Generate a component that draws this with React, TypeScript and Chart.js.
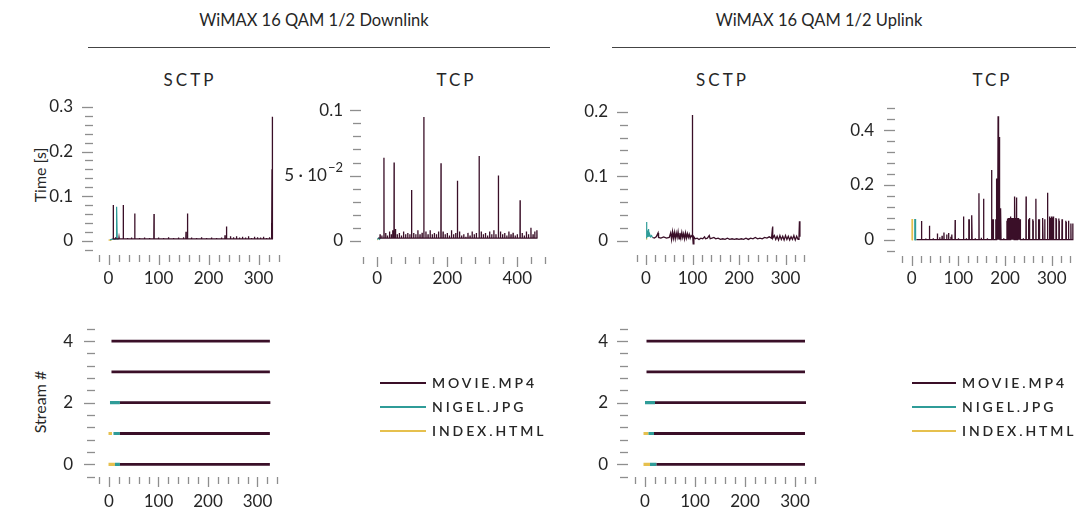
import React, { useEffect, useRef } from "react";
import { Chart, registerables } from "chart.js";
Chart.register(...registerables);

const FONT = "Lato, 'Open Sans', 'DejaVu Sans', sans-serif";
const MOVIE_COLOR = "#3a0f28";
const NIGEL_COLOR = "#2f9c98";
const INDEX_COLOR = "#e6c04e";
const TEXT_COLOR = "#262626";
const MARK_COLOR = "#8e8e8e";

type Pt = [number, number];
type Seg = [number, number, number]; // stream, xStart, xEnd

// ---------- Downlink SCTP: baseline, x-range, spikes [x, time] ----------
const dlSctpMovieBase = 0.004;
const dlSctpMovieRange: Pt = [8, 329];
const dlSctpMovieSpikes: Pt[] = [
  [9.5, 0.08], [14, 0.008], [21, 0.007], [29.5, 0.08], [38, 0.006], [46, 0.007], [52.5, 0.061], [62, 0.006],
  [72, 0.007], [82, 0.006], [91, 0.06], [100, 0.007], [110, 0.006], [120, 0.008], [130, 0.006], [140, 0.007],
  [150, 0.008], [155, 0.02], [158, 0.061], [166, 0.007], [176, 0.006], [186, 0.008], [196, 0.006],
  [206, 0.007], [216, 0.006], [226, 0.007], [233, 0.012], [236, 0.032], [244, 0.01], [250, 0.008],
  [256, 0.01], [262, 0.007], [268, 0.009], [274, 0.007], [280, 0.01], [286, 0.006], [292, 0.009],
  [298, 0.008], [304, 0.007], [310, 0.009], [316, 0.006], [322, 0.008], [326, 0.04], [327, 0.16], [328, 0.278],
];
const dlSctpNigel: Pt[] = [
  [3, 0.002], [6, 0.003], [9, 0.004], [12, 0.003], [15, 0.004], [16, 0.03], [16.5, 0.076], [17.5, 0.004], [20, 0.003],
];
const dlSctpIndex: Pt[] = [[0, 0.001], [2, 0.002], [4, 0.001], [6, 0.002]];

// ---------- Downlink TCP ----------
const dlTcpMovieBase = 0.002;
const dlTcpMovieRange: Pt = [3, 458];
const dlTcpMovieSpikes: Pt[] = [
  [8, 0.005], [13, 0.004], [19, 0.0636], [24, 0.006], [29, 0.004], [35, 0.007], [40, 0.005], [44, 0.008],
  [48, 0.06], [52, 0.009], [57, 0.005], [63, 0.006], [69, 0.004], [75, 0.007], [81, 0.005], [87, 0.006],
  [93, 0.005], [98, 0.039], [104, 0.006], [110, 0.005], [116, 0.008], [122, 0.005], [128, 0.006],
  [133, 0.095], [139, 0.007], [145, 0.005], [151, 0.008], [157, 0.005], [163, 0.006], [169, 0.005],
  [175, 0.007], [182, 0.0595], [188, 0.007], [194, 0.005], [200, 0.006], [206, 0.004], [212, 0.008],
  [218, 0.005], [224, 0.006], [229, 0.046], [235, 0.007], [241, 0.004], [247, 0.005], [253, 0.003],
  [259, 0.006], [265, 0.004], [271, 0.007], [277, 0.005], [283, 0.006], [291, 0.065], [297, 0.007],
  [303, 0.005], [309, 0.006], [315, 0.004], [321, 0.007], [327, 0.005], [333, 0.008], [339, 0.005],
  [346, 0.05], [352, 0.007], [358, 0.005], [364, 0.006], [370, 0.004], [376, 0.007], [382, 0.005],
  [388, 0.006], [394, 0.004], [400, 0.005], [408, 0.031], [414, 0.006], [420, 0.004], [426, 0.007],
  [432, 0.005], [439, 0.01], [445, 0.005], [450, 0.007], [456, 0.008],
];
const dlTcpNigel: Pt[] = [[0, 0.001], [3, 0.002], [6, 0.001], [9, 0.002]];
const dlTcpIndex: Pt[] = [[0, 0.0005], [2, 0.001]];

// ---------- Uplink SCTP ----------
const ulSctpMovie: Pt[] = [
  [14, 0.005], [18, 0.004], [22, 0.006], [26, 0.012], [27, 0.005], [32, 0.004], [38, 0.006], [44, 0.004],
  [50, 0.005], [53, 0.012], [55, 0.002], [57, 0.014], [59, 0.004], [61, 0.013], [63, 0.003], [65, 0.012],
  [67, 0.005], [69, 0.014], [71, 0.003], [73, 0.012], [75, 0.004], [77, 0.013], [79, 0.005], [81, 0.011],
  [83, 0.003], [85, 0.012], [87, 0.004], [89, 0.011], [91, 0.005], [93, 0.01], [95, 0.004], [97, 0.008],
  [99, 0.006], [99.5, 0.1], [100, 0.195], [100.5, 0.01], [101.5, -0.005], [103, 0.006], [106, 0.003],
  [110, 0.004], [114, 0.002], [118, 0.004], [122, 0.003], [126, 0.006], [128, 0.003], [132, 0.004],
  [136, 0.008], [138, 0.003], [142, 0.004], [146, 0.005], [150, 0.003], [155, 0.004], [160, 0.002],
  [165, 0.003], [170, 0.002], [175, 0.004], [180, 0.002], [185, 0.003], [190, 0.002], [195, 0.003],
  [200, 0.002], [205, 0.003], [210, 0.002], [215, 0.004], [220, 0.002], [225, 0.004], [230, 0.003],
  [235, 0.005], [240, 0.003], [245, 0.004], [250, 0.003], [255, 0.005], [260, 0.004], [265, 0.006],
  [270, 0.004], [271, 0.012], [272, 0.022], [273, 0.004], [276, 0.008], [279, 0.002], [282, 0.007],
  [285, 0.001], [288, 0.008], [291, 0.002], [294, 0.007], [297, 0.001], [300, 0.008], [303, 0.002],
  [306, 0.007], [309, 0.001], [312, 0.006], [315, 0.002], [318, 0.008], [321, 0.001], [324, 0.007],
  [327, 0.002], [329, 0.006], [330, 0.03], [331, 0.006],
];
const ulSctpNigel: Pt[] = [
  [0, 0.005], [1, 0.029], [2, 0.008], [3, 0.012], [4, 0.006], [5.5, 0.018], [6.5, 0.007], [8, 0.01],
  [10, 0.006], [12, 0.008], [14, 0.005],
];
const ulSctpIndex: Pt[] = [[0, 0.003], [1, 0.005], [2, 0.003]];

// ---------- Uplink TCP ----------
const ulTcpMovieBase = 0.001;
const ulTcpMovieRange: Pt = [10, 346];
const ulTcpMovieSpikes: Pt[] = [
  [21, 0.069], [30, 0.005], [38, 0.052], [46, 0.006], [55, 0.024], [60, 0.01], [65, 0.015], [69, 0.027],
  [75, 0.02], [79, 0.025], [84, 0.012], [86, 0.02], [93, 0.073], [100, 0.006], [111, 0.085], [117, 0.006],
  [122, 0.075], [123, 0.075], [128, 0.09], [129, 0.09], [136, 0.006], [144, 0.17], [149, 0.008],
  [154, 0.15], [162, 0.006], [171, 0.255], [172, 0.075], [173, 0.075], [174, 0.075], [175, 0.075],
  [180, 0.075], [181, 0.075], [182, 0.224], [183, 0.1], [184, 0.2], [185, 0.45], [186, 0.22],
  [187, 0.375], [188, 0.15], [189, 0.08], [190, 0.075], [191, 0.115], [197, 0.006],
  [204, 0.07], [205, 0.075], [206, 0.078], [207, 0.08], [208, 0.075], [209, 0.07], [210, 0.08],
  [211, 0.085], [212, 0.08], [213, 0.08], [214, 0.075], [215, 0.07], [216, 0.08], [217, 0.07],
  [218, 0.075], [219, 0.08], [220, 0.1], [221, 0.158], [222, 0.08], [223, 0.075], [224, 0.155],
  [225, 0.155], [226, 0.08], [227, 0.075], [228, 0.07], [229, 0.08], [230, 0.06], [231, 0.075],
  [232, 0.07], [233, 0.075], [239, 0.006], [245, 0.158], [250, 0.075], [251, 0.07], [252, 0.075],
  [253, 0.08], [259, 0.075], [260, 0.07], [266, 0.15], [271, 0.075], [272, 0.07], [273, 0.075],
  [274, 0.07], [280, 0.08], [281, 0.075], [285, 0.075], [291, 0.172], [295, 0.08], [296, 0.085],
  [297, 0.08], [298, 0.075], [299, 0.08], [300, 0.085], [301, 0.08], [302, 0.075], [303, 0.085],
  [304, 0.08], [309, 0.08], [310, 0.075], [315, 0.078], [316, 0.07], [322, 0.075], [323, 0.07],
  [330, 0.07], [331, 0.065], [336, 0.07], [341, 0.06], [345, 0.06],
];
const ulTcpNigel: Pt[] = [[6, 0], [6.5, 0.076], [7, 0], [8, 0.076], [8.5, 0]];
const ulTcpIndex: Pt[] = [[0, 0], [0.5, 0.076], [1, 0], [1.5, 0.076], [2, 0]];

// ---------- Stream # panels (stream, x from, x to) ----------
const dlStreamMovie: Seg[] = [[4, 5, 325], [3, 5, 325], [2, 22, 326], [1, 22, 325], [0, 22, 325]];
const dlStreamNigel: Seg[] = [[2, 2, 22], [1, 9, 22], [0, 12, 22]];
const dlStreamIndex: Seg[] = [[1, -1, 6], [0, -1, 12]];
const ulStreamMovie: Seg[] = [[4, 3, 320], [3, 3, 320], [2, 20, 322], [1, 18, 320], [0, 23, 320]];
const ulStreamNigel: Seg[] = [[2, 0, 20], [1, 7, 18], [0, 10, 23]];
const ulStreamIndex: Seg[] = [[1, -3, 7], [0, -3, 10]];

// ---------- ticks ----------
const xMajorSctp = [0, 100, 200, 300];
const xLabelsSctp = ["0", "100", "200", "300"];
const xMajorDlTcp = [0, 200, 400];
const xLabelsDlTcp = ["0", "200", "400"];
const yMajorDlSctp = [0, 0.1, 0.2, 0.3];
const yLabelsDlSctp = ["0", "0.1", "0.2", "0.3"];
const yMajorDlTcp = [0, 0.05, 0.1];
const yLabelsDlTcp = ["0", "5 · 10^−2", "0.1"];
const yMajorUlSctp = [0, 0.1, 0.2];
const yLabelsUlSctp = ["0", "0.1", "0.2"];
const yMajorUlTcp = [0, 0.2, 0.4];
const yLabelsUlTcp = ["0", "0.2", "0.4"];
const yMajorStream = [0, 2, 4];
const yLabelsStream = ["0", "2", "4"];

const legendNames = ["MOVIE.MP4", "NIGEL.JPG", "INDEX.HTML"];
const legendColors = [MOVIE_COLOR, NIGEL_COLOR, INDEX_COLOR];

function steps(min: number, max: number, step: number): number[] {
  const out: number[] = [];
  const n = Math.round((max - min) / step);
  for (let i = 0; i <= n; i++) out.push(+(min + i * step).toFixed(6));
  return out;
}

// turn a baseline + list of read spikes into the polyline the line dataset needs
function spikeLine(range: Pt, base: number, spikes: Pt[], hw = 0.35): Pt[] {
  const out: Pt[] = [[range[0], base]];
  for (const [x, h] of spikes) out.push([x - hw, base], [x, h], [x + hw, base]);
  out.push([range[1], base]);
  return out;
}

const axesPlugin = {
  id: "mmaAxes",
  afterDraw(chart: any, _a: any, o: any) {
    const ctx = chart.ctx;
    const xs = chart.scales.x;
    const ys = chart.scales.y;
    const isMajor = (list: number[], v: number, step: number) => list.some((m) => Math.abs(m - v) < step * 1e-3);
    ctx.save();
    ctx.strokeStyle = MARK_COLOR;
    ctx.lineWidth = 1.3;
    for (const v of o.yTicks) {
      const py = Math.round(ys.getPixelForValue(v)) + 0.5;
      const len = isMajor(o.yMajor, v, o.yStep) ? 11 : 8;
      ctx.beginPath();
      ctx.moveTo(o.yMarkRight - len, py);
      ctx.lineTo(o.yMarkRight, py);
      ctx.stroke();
    }
    for (const v of o.xTicks) {
      const px = Math.round(xs.getPixelForValue(v)) + 0.5;
      const len = isMajor(o.xMajor, v, o.xStep) ? 10 : 7;
      ctx.beginPath();
      ctx.moveTo(px, o.xMarkTop);
      ctx.lineTo(px, o.xMarkTop + len);
      ctx.stroke();
    }
    ctx.fillStyle = TEXT_COLOR;
    const f = `17px ${FONT}`;
    ctx.font = f;
    ctx.textBaseline = "middle";
    o.yMajor.forEach((v: number, i: number) => {
      const py = ys.getPixelForValue(v);
      const lab: string = o.yLabels[i];
      if (lab.includes("^")) {
        const [base, sup] = lab.split("^");
        ctx.font = `13px ${FONT}`;
        const ws = ctx.measureText(sup).width;
        ctx.textAlign = "left";
        ctx.fillText(sup, o.yLabelRight - ws, py - 8);
        ctx.font = f;
        ctx.textAlign = "right";
        ctx.fillText(base, o.yLabelRight - ws - 1, py);
      } else {
        ctx.textAlign = "right";
        ctx.fillText(lab, o.yLabelRight, py);
      }
    });
    ctx.textAlign = "center";
    o.xMajor.forEach((v: number, i: number) => {
      ctx.fillText(o.xLabels[i], xs.getPixelForValue(v), o.xLabelY);
    });
    ctx.restore();
  },
};

const lineDs = (pts: Pt[], color: string, width = 1.2) => ({
  data: pts.map(([x, y]) => ({ x, y })),
  borderColor: color,
  backgroundColor: color,
  borderWidth: width,
  pointRadius: 0,
  tension: 0,
});

const segDs = (segs: Seg[], color: string, width: number) =>
  segs.map(([s, a, b]) => ({
    data: [{ x: a, y: s }, { x: b, y: s }],
    borderColor: color,
    backgroundColor: color,
    borderWidth: width,
    pointRadius: 0,
    tension: 0,
  }));

interface PanelSpec {
  area: [number, number, number, number];
  xr: [number, number];
  yr: [number, number];
  xTicks: number[];
  xStep: number;
  xMajor: number[];
  xLabels: string[];
  yTicks: number[];
  yStep: number;
  yMajor: number[];
  yLabels: string[];
  yMarkRight: number;
  yLabelRight: number;
  xMarkTop: number;
  xLabelY: number;
  datasets: any[];
}

const PANELS: PanelSpec[] = [
  {
    area: [98.5, 104.7, 278.5, 254.1], xr: [-20, 340], yr: [-0.03, 0.305],
    xTicks: steps(-20, 340, 20), xStep: 20, xMajor: xMajorSctp, xLabels: xLabelsSctp,
    yTicks: steps(-0.02, 0.3, 0.02), yStep: 0.02, yMajor: yMajorDlSctp, yLabels: yLabelsDlSctp,
    yMarkRight: 93, yLabelRight: 73, xMarkTop: 255, xLabelY: 279,
    datasets: [
      lineDs(spikeLine(dlSctpMovieRange, dlSctpMovieBase, dlSctpMovieSpikes), MOVIE_COLOR, 1.3),
      lineDs(dlSctpNigel, NIGEL_COLOR),
      lineDs(dlSctpIndex, INDEX_COLOR),
    ],
  },
  {
    area: [363.3, 107.4, 545.3, 254], xr: [-40, 480], yr: [-0.0102, 0.1023],
    xTicks: steps(-40, 480, 40), xStep: 40, xMajor: xMajorDlTcp, xLabels: xLabelsDlTcp,
    yTicks: steps(0, 0.1, 0.01), yStep: 0.01, yMajor: yMajorDlTcp, yLabels: yLabelsDlTcp,
    yMarkRight: 361, yLabelRight: 343, xMarkTop: 257, xLabelY: 279,
    datasets: [
      lineDs(spikeLine(dlTcpMovieRange, dlTcpMovieBase, dlTcpMovieSpikes), MOVIE_COLOR, 1.3),
      lineDs(dlTcpNigel, NIGEL_COLOR),
      lineDs(dlTcpIndex, INDEX_COLOR),
    ],
  },
  {
    area: [636.7, 109.8, 804.1, 254], xr: [-20, 340], yr: [-0.0206, 0.203],
    xTicks: steps(-20, 340, 20), xStep: 20, xMajor: xMajorSctp, xLabels: xLabelsSctp,
    yTicks: steps(0, 0.2, 0.02), yStep: 0.02, yMajor: yMajorUlSctp, yLabels: yLabelsUlSctp,
    yMarkRight: 628, yLabelRight: 608, xMarkTop: 255, xLabelY: 279,
    datasets: [lineDs(ulSctpMovie, MOVIE_COLOR, 1.3), lineDs(ulSctpNigel, NIGEL_COLOR), lineDs(ulSctpIndex, INDEX_COLOR)],
  },
  {
    area: [902.4, 105.3, 1075.1, 254], xr: [-20, 350], yr: [-0.051, 0.49],
    xTicks: steps(-20, 340, 20), xStep: 20, xMajor: xMajorSctp, xLabels: xLabelsSctp,
    yTicks: steps(-0.04, 0.48, 0.04), yStep: 0.04, yMajor: yMajorUlTcp, yLabels: yLabelsUlTcp,
    yMarkRight: 895, yLabelRight: 874, xMarkTop: 256, xLabelY: 279,
    datasets: [
      lineDs(spikeLine(ulTcpMovieRange, ulTcpMovieBase, ulTcpMovieSpikes), MOVIE_COLOR, 1.3),
      lineDs(ulTcpNigel, NIGEL_COLOR),
      lineDs(ulTcpIndex, INDEX_COLOR),
    ],
  },
  {
    area: [99.1, 327.2, 277.3, 475.1], xr: [-20, 340], yr: [-0.35, 4.45],
    xTicks: steps(-20, 340, 20), xStep: 20, xMajor: xMajorSctp, xLabels: xLabelsSctp,
    yTicks: steps(-0.4, 4.4, 0.4), yStep: 0.4, yMajor: yMajorStream, yLabels: yLabelsStream,
    yMarkRight: 95, yLabelRight: 73, xMarkTop: 477, xLabelY: 502,
    datasets: [
      ...segDs(dlStreamMovie, MOVIE_COLOR, 2.8),
      ...segDs(dlStreamNigel, NIGEL_COLOR, 3.2),
      ...segDs(dlStreamIndex, INDEX_COLOR, 3.2),
    ],
  },
  {
    area: [635, 327.2, 815, 475.1], xr: [-20, 340], yr: [-0.35, 4.45],
    xTicks: steps(-20, 340, 20), xStep: 20, xMajor: xMajorSctp, xLabels: xLabelsSctp,
    yTicks: steps(-0.4, 4.4, 0.4), yStep: 0.4, yMajor: yMajorStream, yLabels: yLabelsStream,
    yMarkRight: 628, yLabelRight: 608, xMarkTop: 477, xLabelY: 502,
    datasets: [
      ...segDs(ulStreamMovie, MOVIE_COLOR, 2.8),
      ...segDs(ulStreamNigel, NIGEL_COLOR, 3.2),
      ...segDs(ulStreamIndex, INDEX_COLOR, 3.2),
    ],
  },
];

const W = 1080;
const H = 511;

function Panel({ spec }: { spec: PanelSpec }) {
  const ref = useRef<HTMLCanvasElement>(null);
  useEffect(() => {
    if (!ref.current) return;
    const [l, t, r, b] = spec.area;
    const chart = new Chart(ref.current, {
      type: "line",
      data: { datasets: spec.datasets },
      plugins: [axesPlugin as any],
      options: {
        animation: false,
        responsive: false,
        devicePixelRatio: 1,
        events: [],
        layout: { padding: { left: l, top: t, right: W - r, bottom: H - b } },
        scales: {
          x: { type: "linear", min: spec.xr[0], max: spec.xr[1], display: false },
          y: { type: "linear", min: spec.yr[0], max: spec.yr[1], display: false },
        },
        plugins: {
          legend: { display: false },
          tooltip: { enabled: false },
          mmaAxes: {
            xTicks: spec.xTicks, xStep: spec.xStep, xMajor: spec.xMajor, xLabels: spec.xLabels,
            yTicks: spec.yTicks, yStep: spec.yStep, yMajor: spec.yMajor, yLabels: spec.yLabels,
            yMarkRight: spec.yMarkRight, yLabelRight: spec.yLabelRight,
            xMarkTop: spec.xMarkTop, xLabelY: spec.xLabelY,
          },
        } as any,
      },
    } as any);
    return () => chart.destroy();
  }, [spec]);
  return (
    <canvas
      ref={ref}
      width={W}
      height={H}
      style={{ position: "absolute", left: 0, top: 0, width: W, height: H }}
    />
  );
}

function Text({ x, y, children, size = 17, spacing = 0, rotate = false, weight = 400 }: any) {
  return (
    <div
      style={{
        position: "absolute",
        left: x,
        top: y,
        transform: `translate(-50%, -50%)${rotate ? " rotate(-90deg)" : ""}`,
        fontFamily: FONT,
        fontSize: size,
        fontWeight: weight,
        letterSpacing: spacing,
        paddingLeft: spacing,
        color: TEXT_COLOR,
        whiteSpace: "nowrap",
        lineHeight: 1,
      }}
    >
      {children}
    </div>
  );
}

function Legend({ x, y, lineW }: { x: number; y: number; lineW: number }) {
  return (
    <>
      {legendNames.map((name, i) => (
        <div key={name} style={{ position: "absolute", left: x, top: y + i * 24 - 8, height: 16, display: "flex", alignItems: "center" }}>
          <div style={{ width: lineW, height: 2, background: legendColors[i], marginRight: 6 }} />
          <div style={{ fontFamily: FONT, fontSize: 14, fontWeight: 600, letterSpacing: 2.9, color: TEXT_COLOR, lineHeight: 1, whiteSpace: "nowrap" }}>{name}</div>
        </div>
      ))}
    </>
  );
}

export default function App() {
  return (
    <div style={{ position: "absolute", left: 0, top: 0, width: W, height: H, background: "#fff", overflow: "hidden" }}>
      <Text x={314} y={20} size={16.5}>WiMAX 16 QAM 1/2 Downlink</Text>
      <Text x={819} y={20} size={16.5}>WiMAX 16 QAM 1/2 Uplink</Text>
      <div style={{ position: "absolute", left: 88, top: 47, width: 462, height: 1.3, background: "#444" }} />
      <div style={{ position: "absolute", left: 612, top: 47, width: 464, height: 1.3, background: "#444" }} />
      <Text x={188.5} y={79} size={17} spacing={3}>SCTP</Text>
      <Text x={455} y={79} size={17} spacing={3}>TCP</Text>
      <Text x={721} y={79} size={17} spacing={3}>SCTP</Text>
      <Text x={991} y={79} size={17} spacing={3}>TCP</Text>
      <Text x={40} y={175} size={16} rotate>Time [s]</Text>
      <Text x={40} y={402} size={16} rotate>Stream #</Text>
      {PANELS.map((p, i) => (
        <Panel key={i} spec={p} />
      ))}
      <Legend x={380} y={383} lineW={46} />
      <Legend x={912} y={383} lineW={44} />
    </div>
  );
}
